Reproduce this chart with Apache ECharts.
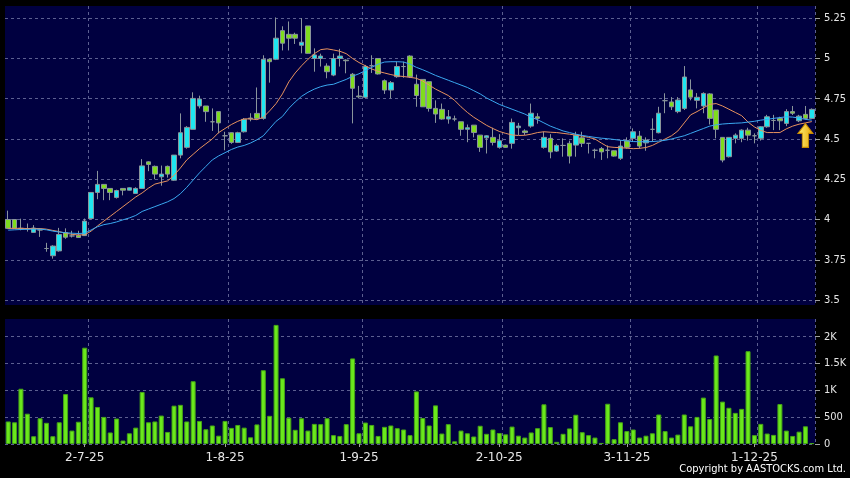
<!DOCTYPE html>
<html>
<head>
<meta charset="utf-8">
<script src="https://cdn.jsdelivr.net/npm/echarts@6/dist/echarts.min.js"></script>
<style>
  html, body { margin: 0; padding: 0; background: #000; }
  #chart { width: 850px; height: 478px; }
</style>
</head>
<body>
<div id="chart"></div>
<script>
// trading days, d-m-yy
const dates = [
  '13-6-25', '16-6-25', '17-6-25', '18-6-25', '19-6-25', '20-6-25', '23-6-25', '24-6-25', '25-6-25', '26-6-25', '27-6-25', '30-6-25',
  '2-7-25', '3-7-25', '4-7-25', '7-7-25', '8-7-25', '9-7-25', '10-7-25', '11-7-25', '14-7-25', '15-7-25', '16-7-25', '17-7-25',
  '18-7-25', '21-7-25', '22-7-25', '23-7-25', '24-7-25', '25-7-25', '28-7-25', '29-7-25', '30-7-25', '31-7-25',
  '1-8-25', '4-8-25', '5-8-25', '6-8-25', '7-8-25', '8-8-25', '11-8-25', '12-8-25', '13-8-25', '14-8-25', '15-8-25',
  '18-8-25', '19-8-25', '20-8-25', '21-8-25', '22-8-25', '25-8-25', '26-8-25', '27-8-25', '28-8-25', '29-8-25',
  '1-9-25', '2-9-25', '3-9-25', '4-9-25', '5-9-25', '8-9-25', '9-9-25', '10-9-25', '11-9-25', '12-9-25', '15-9-25',
  '16-9-25', '17-9-25', '18-9-25', '19-9-25', '22-9-25', '23-9-25', '24-9-25', '25-9-25', '26-9-25', '29-9-25', '30-9-25',
  '2-10-25', '3-10-25', '6-10-25', '8-10-25', '9-10-25', '10-10-25', '13-10-25', '14-10-25', '15-10-25', '16-10-25',
  '17-10-25', '20-10-25', '21-10-25', '22-10-25', '23-10-25', '24-10-25', '27-10-25', '28-10-25', '30-10-25', '31-10-25',
  '3-11-25', '4-11-25', '5-11-25', '6-11-25', '7-11-25', '10-11-25', '11-11-25', '12-11-25', '13-11-25', '14-11-25',
  '17-11-25', '18-11-25', '19-11-25', '20-11-25', '21-11-25', '24-11-25', '25-11-25', '26-11-25', '27-11-25', '28-11-25',
  '1-12-25', '2-12-25', '3-12-25', '4-12-25', '5-12-25', '8-12-25', '9-12-25', '10-12-25', '11-12-25', '12-12-25'
];

// [open, close, low, high]
const ohlc = [
  [4.00, 3.945, 3.94, 4.055], [4.00, 3.945, 3.94, 4.00], [3.945, 3.945, 3.933, 4.005], [3.943, 3.943, 3.925, 3.975],
  [3.92, 3.947, 3.918, 3.965], [3.935, 3.935, 3.892, 3.94], [3.82, 3.82, 3.80, 3.855], [3.775, 3.835, 3.757, 3.84],
  [3.805, 3.907, 3.80, 3.948], [3.919, 3.89, 3.88, 3.945], [3.898, 3.898, 3.888, 3.93], [3.902, 3.888, 3.885, 3.93],
  [3.90, 3.99, 3.90, 4.006], [4.006, 4.168, 4.00, 4.17], [4.168, 4.218, 4.126, 4.302], [4.218, 4.193, 4.12, 4.218],
  [4.193, 4.168, 4.12, 4.193], [4.137, 4.18, 4.13, 4.185], [4.193, 4.182, 4.15, 4.195], [4.182, 4.197, 4.18, 4.20],
  [4.162, 4.193, 4.16, 4.20], [4.193, 4.333, 4.19, 4.375], [4.358, 4.342, 4.30, 4.362], [4.33, 4.282, 4.25, 4.335],
  [4.265, 4.282, 4.21, 4.335], [4.33, 4.282, 4.26, 4.335], [4.244, 4.40, 4.24, 4.40], [4.40, 4.539, 4.38, 4.659],
  [4.448, 4.572, 4.44, 4.58], [4.56, 4.752, 4.56, 4.79], [4.705, 4.748, 4.69, 4.769], [4.705, 4.67, 4.607, 4.705],
  [4.607, 4.607, 4.55, 4.69], [4.67, 4.60, 4.535, 4.67], [4.52, 4.52, 4.43, 4.545], [4.539, 4.479, 4.47, 4.54],
  [4.479, 4.539, 4.475, 4.545], [4.545, 4.622, 4.54, 4.63], [4.625, 4.63, 4.61, 4.66], [4.659, 4.628, 4.62, 4.82],
  [4.628, 4.995, 4.62, 5.02], [4.995, 4.98, 4.85, 5.00], [4.995, 5.126, 4.99, 5.255], [5.173, 5.095, 5.05, 5.20],
  [5.15, 5.126, 5.05, 5.23], [5.15, 5.126, 5.09, 5.16], [5.082, 5.101, 5.032, 5.25], [5.202, 5.032, 5.03, 5.202],
  [5.00, 5.022, 4.918, 5.063], [5.00, 5.015, 4.95, 5.03], [4.953, 4.918, 4.877, 4.97], [4.897, 5.00, 4.89, 5.03],
  [5.00, 5.015, 4.95, 5.06], [4.99, 4.986, 4.908, 4.995], [4.902, 4.815, 4.597, 4.91], [4.767, 4.762, 4.752, 4.83],
  [4.759, 4.95, 4.755, 4.96], [4.955, 4.955, 4.91, 5.02], [5.00, 4.904, 4.90, 5.00], [4.862, 4.804, 4.78, 4.87],
  [4.804, 4.85, 4.752, 4.86], [4.887, 4.95, 4.88, 4.98], [4.95, 4.95, 4.88, 4.98], [5.015, 4.887, 4.88, 5.02],
  [4.84, 4.77, 4.70, 4.90], [4.87, 4.70, 4.70, 4.87], [4.856, 4.69, 4.67, 4.856], [4.69, 4.655, 4.60, 4.74],
  [4.684, 4.624, 4.62, 4.72], [4.624, 4.638, 4.595, 4.68], [4.624, 4.624, 4.61, 4.645], [4.607, 4.56, 4.52, 4.607],
  [4.56, 4.57, 4.48, 4.59], [4.586, 4.54, 4.51, 4.586], [4.524, 4.448, 4.42, 4.524], [4.507, 4.52, 4.41, 4.524],
  [4.51, 4.479, 4.46, 4.57], [4.448, 4.489, 4.44, 4.53], [4.462, 4.448, 4.445, 4.465], [4.473, 4.603, 4.44, 4.627],
  [4.57, 4.58, 4.525, 4.60], [4.55, 4.54, 4.525, 4.56], [4.58, 4.66, 4.57, 4.72], [4.638, 4.628, 4.595, 4.66],
  [4.448, 4.51, 4.44, 4.545], [4.504, 4.42, 4.38, 4.53], [4.425, 4.46, 4.42, 4.47], [4.46, 4.46, 4.39, 4.504],
  [4.473, 4.394, 4.348, 4.49], [4.462, 4.524, 4.39, 4.545], [4.507, 4.473, 4.45, 4.545], [4.473, 4.473, 4.41, 4.475],
  [4.43, 4.43, 4.38, 4.44], [4.44, 4.42, 4.37, 4.45], [4.43, 4.43, 4.38, 4.46], [4.427, 4.394, 4.39, 4.43],
  [4.38, 4.456, 4.37, 4.493], [4.489, 4.448, 4.44, 4.51], [4.504, 4.545, 4.483, 4.566], [4.518, 4.456, 4.44, 4.55],
  [4.476, 4.493, 4.427, 4.51], [4.56, 4.56, 4.483, 4.628], [4.539, 4.66, 4.535, 4.70], [4.738, 4.738, 4.66, 4.784],
  [4.73, 4.70, 4.68, 4.76], [4.67, 4.742, 4.66, 4.76], [4.69, 4.885, 4.68, 4.953], [4.805, 4.76, 4.74, 4.87],
  [4.74, 4.759, 4.69, 4.785], [4.705, 4.783, 4.66, 4.79], [4.78, 4.628, 4.59, 4.785], [4.68, 4.56, 4.504, 4.68],
  [4.51, 4.369, 4.355, 4.51], [4.39, 4.51, 4.385, 4.51], [4.504, 4.524, 4.473, 4.535], [4.504, 4.555, 4.48, 4.56],
  [4.555, 4.524, 4.49, 4.57], [4.52, 4.52, 4.473, 4.535], [4.504, 4.576, 4.49, 4.58], [4.576, 4.638, 4.57, 4.65],
  [4.615, 4.615, 4.555, 4.65], [4.628, 4.613, 4.555, 4.638], [4.597, 4.67, 4.58, 4.685], [4.67, 4.66, 4.649, 4.705],
  [4.613, 4.642, 4.605, 4.65], [4.653, 4.628, 4.62, 4.705], [4.628, 4.684, 4.625, 4.69]
];

// moving averages as drawn (orange short, blue long)
const maShort = [
  3.945, 3.945, 3.945, 3.944, 3.944, 3.944, 3.94, 3.932, 3.925, 3.915, 3.908, 3.904, 3.905, 3.928, 3.96, 3.99,
  4.02, 4.05, 4.08, 4.11, 4.14, 4.165, 4.195, 4.22, 4.23, 4.24, 4.275, 4.32, 4.37, 4.405, 4.44, 4.47,
  4.50, 4.54, 4.565, 4.59, 4.61, 4.625, 4.625, 4.62, 4.635, 4.675, 4.72, 4.78, 4.855, 4.91, 4.955, 4.995,
  5.03, 5.055, 5.06, 5.053, 5.045, 5.03, 5.00, 4.975, 4.955, 4.935, 4.92, 4.91, 4.90, 4.892, 4.888, 4.883,
  4.877, 4.86, 4.835, 4.81, 4.79, 4.77, 4.74, 4.70, 4.665, 4.635, 4.61, 4.585, 4.565, 4.547, 4.535, 4.525,
  4.522, 4.523, 4.53, 4.54, 4.545, 4.542, 4.54, 4.535, 4.53, 4.524, 4.518, 4.51, 4.50, 4.475, 4.452, 4.448,
  4.446, 4.443, 4.44, 4.442, 4.447, 4.46, 4.48, 4.50, 4.52, 4.55, 4.60, 4.65, 4.67, 4.693, 4.715, 4.72,
  4.705, 4.685, 4.665, 4.645, 4.605, 4.575, 4.553, 4.54, 4.54, 4.54, 4.563, 4.58, 4.592, 4.60, 4.608
];
const maLong = [
  3.934, 3.936, 3.938, 3.939, 3.94, 3.94, 3.936, 3.928, 3.922, 3.918, 3.915, 3.913, 3.915, 3.935, 3.955, 3.968,
  3.975, 3.985, 3.998, 4.01, 4.025, 4.05, 4.065, 4.08, 4.095, 4.11, 4.13, 4.16, 4.20, 4.245, 4.29, 4.33,
  4.37, 4.395, 4.415, 4.435, 4.45, 4.46, 4.475, 4.495, 4.52, 4.565, 4.61, 4.64, 4.69, 4.73, 4.765, 4.79,
  4.81, 4.825, 4.835, 4.84, 4.855, 4.87, 4.89, 4.905, 4.925, 4.945, 4.965, 4.978, 4.98, 4.98, 4.978, 4.965,
  4.945, 4.93, 4.913, 4.895, 4.88, 4.865, 4.85, 4.835, 4.82, 4.80, 4.78, 4.755, 4.735, 4.715, 4.70, 4.685,
  4.67, 4.655, 4.635, 4.62, 4.60, 4.58, 4.565, 4.55, 4.54, 4.53, 4.522, 4.516, 4.51, 4.505, 4.502, 4.497,
  4.492, 4.488, 4.484, 4.483, 4.483, 4.484, 4.487, 4.492, 4.50, 4.51, 4.52, 4.535, 4.55, 4.565, 4.58, 4.588,
  4.593, 4.596, 4.598, 4.60, 4.605, 4.61, 4.617, 4.622, 4.628, 4.633, 4.638, 4.636, 4.63, 4.622, 4.617
];

// volume, thousands of shares
const volumes = [
  420, 405, 1030, 565, 145, 480, 395, 145, 405, 930, 250, 415, 1795, 870, 690, 505,
  215, 475, 65, 200, 305, 970, 405, 420, 530, 225, 715, 730, 420, 1170, 430, 275,
  345, 155, 430, 300, 355, 305, 125, 365, 1375, 525, 2220, 1225, 490, 265, 480, 250,
  375, 370, 480, 165, 150, 370, 1595, 200, 400, 355, 150, 320, 345, 295, 270, 165,
  980, 485, 345, 720, 195, 370, 50, 250, 200, 140, 340, 190, 270, 205, 180, 325,
  155, 120, 215, 295, 740, 315, 40, 190, 290, 545, 220, 165, 120, 20, 750, 90,
  405, 240, 270, 120, 155, 200, 550, 240, 120, 175, 550, 330, 505, 865, 465, 1650,
  790, 675, 580, 655, 1730, 165, 375, 195, 170, 745, 250, 150, 230, 330, 15
];

const labelDates = ['2-7-25', '1-8-25', '1-9-25', '2-10-25', '3-11-25', '1-12-25'];
const priceTicks = [3.5, 3.75, 4, 4.25, 4.5, 4.75, 5, 5.25];
const volumeTicks = [0, 500, 1000, 1500, 2000];

const labelIdx = labelDates.map((d) => dates.indexOf(d));

const chart = echarts.init(document.getElementById('chart'));

const gridLine = { color: '#5c5f90', width: 1, type: [3, 3] };
const tickStyle = { color: '#a0a0a0', width: 1 };
const labelFont = 'DejaVu Sans';

const option = {
  animation: false,
  backgroundColor: '#000',
  grid: [
    { left: 5, right: 35, top: 6, height: 299, show: true, backgroundColor: '#000040', borderWidth: 0 },
    { left: 5, right: 35, top: 319, height: 125, show: true, backgroundColor: '#000040', borderWidth: 0 },
  ],
  xAxis: [
    {
      type: 'category',
      gridIndex: 0,
      data: dates,
      axisLine: { show: false },
      axisTick: { show: false },
      axisLabel: { show: false },
      splitLine: { show: true, interval: (i) => labelIdx.includes(i - 1), lineStyle: gridLine },
    },
    {
      type: 'category',
      gridIndex: 1,
      data: dates,
      axisLine: { show: false },
      axisTick: { show: true, alignWithLabel: true, length: 3, interval: (i) => labelIdx.includes(i), lineStyle: tickStyle },
      axisLabel: {
        interval: (i) => labelIdx.includes(i),
        color: '#e6e6e6',
        fontFamily: labelFont,
        fontSize: 12,
        margin: 8,
      },
      splitLine: { show: true, interval: (i) => labelIdx.includes(i - 1), lineStyle: gridLine },
    },
  ],
  yAxis: [
    {
      type: 'value',
      gridIndex: 0,
      position: 'right',
      min: 3.469,
      max: 5.326,
      axisLine: { show: false },
      axisTick: { show: true, length: 5, customValues: priceTicks, lineStyle: tickStyle },
      axisLabel: {
        customValues: priceTicks,
        color: '#e6e6e6',
        fontFamily: 'DejaVu Sans Condensed',
        fontSize: 11,
        margin: 9,
      },
      splitLine: { show: true, lineStyle: gridLine },
    },
    {
      type: 'value',
      gridIndex: 1,
      position: 'right',
      min: 0,
      max: 2330,
      axisLine: { show: false },
      axisTick: { show: true, length: 5, customValues: volumeTicks, lineStyle: tickStyle },
      axisLabel: {
        customValues: volumeTicks,
        color: '#e6e6e6',
        fontFamily: 'DejaVu Sans Condensed',
        fontSize: 11,
        margin: 9,
        formatter: (v) => (v >= 1000 ? v / 1000 + 'K' : String(v)),
      },
      splitLine: { show: true, lineStyle: gridLine },
    },
  ],
  series: [
    {
      name: 'price',
      type: 'candlestick',
      xAxisIndex: 0,
      yAxisIndex: 0,
      data: ohlc,
      barWidth: 5,
      itemStyle: {
        color: '#1fe6f0',
        color0: '#7fdc1e',
        borderColor: '#8a959b',
        borderColor0: '#8a959b',
        borderWidth: 1,
      },
      markPoint: {
        symbol: 'path://M7,0 L14,10 L10,10 L10,24 L4,24 L4,10 L0,10 Z',
        symbolSize: [15, 24],
        label: { show: false },
        itemStyle: {
          color: new echarts.graphic.LinearGradient(0, 0, 1, 0, [
            { offset: 0, color: '#fff27a' },
            { offset: 1, color: '#e8a400' },
          ]),
          borderColor: '#c88a00',
          borderWidth: 1,
        },
        data: [{ coord: [dates[125], 4.522] }],
      },
    },
    {
      name: 'MA short',
      type: 'line',
      xAxisIndex: 0,
      yAxisIndex: 0,
      data: maShort,
      symbol: 'none',
      lineStyle: { color: '#e8925e', width: 1 },
    },
    {
      name: 'MA long',
      type: 'line',
      xAxisIndex: 0,
      yAxisIndex: 0,
      data: maLong,
      symbol: 'none',
      lineStyle: { color: '#3aa8f0', width: 1 },
    },
    {
      name: 'volume',
      type: 'bar',
      xAxisIndex: 1,
      yAxisIndex: 1,
      data: volumes,
      barWidth: 5,
      itemStyle: { color: '#6ae81c', borderColor: '#46a416', borderWidth: 1 },
    },
  ],
  graphic: [
    {
      type: 'text',
      right: 4,
      top: 464,
      style: {
        text: 'Copyright by AASTOCKS.com Ltd.',
        fill: '#ffffff',
        font: '11px "DejaVu Sans Condensed"',
      },
    },
  ],
};

chart.setOption(option);
</script>
</body>
</html>
